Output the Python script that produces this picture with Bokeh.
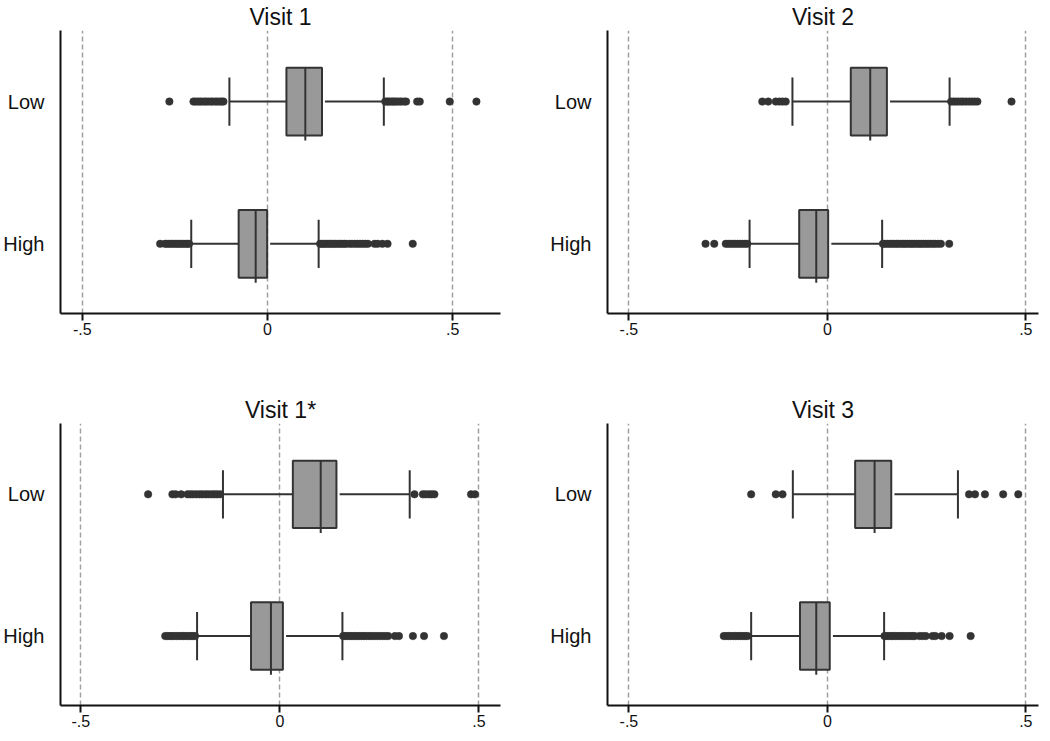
from bokeh.plotting import figure
from bokeh.layouts import row, column
from bokeh.models import Range1d, FixedTicker
from bokeh.embed import file_html
from bokeh.resources import INLINE

titles = ["Visit 1", "Visit 2", "Visit 1*", "Visit 3"]
groups = ["Low", "High"]          # Low drawn at y=1, High at y=0
group_y = [1, 0]

# box statistics per panel: [Low, High]
q1 = [[0.051, -0.078], [0.059, -0.071], [0.0325, -0.0725], [0.070, -0.069]]
med = [[0.102, -0.032], [0.108, -0.028], [0.1025, -0.0225], [0.119, -0.028]]
q3 = [[0.147, -0.001], [0.150, 0.002], [0.142, 0.0075], [0.161, 0.006]]
lo_whisk = [[-0.103, -0.206], [-0.088, -0.196], [-0.143, -0.208], [-0.087, -0.192]]
hi_whisk = [[0.314, 0.138], [0.308, 0.138], [0.326, 0.157], [0.329, 0.143]]

# outliers per panel: [Low, High]
outliers = [
    [
        [-0.265, -0.200, -0.195, -0.189, -0.183, -0.178, -0.171, -0.166, -0.160, -0.153,
         -0.148, -0.141, -0.136, -0.129, -0.124, -0.119,
         0.318, 0.323, 0.327, 0.332, 0.337, 0.341, 0.346, 0.351, 0.357, 0.362, 0.369,
         0.374, 0.404, 0.411, 0.492, 0.564],
        [-0.290, -0.277, -0.272, -0.266, -0.260, -0.255, -0.249, -0.244, -0.239, -0.233,
         -0.228, -0.222, -0.217, -0.212,
         0.142, 0.147, 0.152, 0.157, 0.163, 0.168, 0.173, 0.179, 0.184, 0.190, 0.196,
         0.201, 0.207, 0.212, 0.221, 0.228, 0.236, 0.243, 0.250, 0.257, 0.264, 0.271,
         0.289, 0.297, 0.310, 0.324, 0.392],
    ],
    [
        [-0.164, -0.149, -0.130, -0.121, -0.113, -0.105,
         0.312, 0.318, 0.324, 0.330, 0.337, 0.343, 0.350, 0.357, 0.364, 0.371, 0.378,
         0.464],
        [-0.307, -0.285, -0.256, -0.250, -0.244, -0.238, -0.232, -0.226, -0.220, -0.214,
         -0.208, -0.202,
         0.140, 0.145, 0.151, 0.157, 0.162, 0.168, 0.174, 0.179, 0.185, 0.191, 0.196,
         0.202, 0.208, 0.213, 0.219, 0.225, 0.231, 0.236, 0.242, 0.248, 0.254, 0.260,
         0.266, 0.272, 0.279, 0.286, 0.307],
    ],
    [
        [-0.331, -0.270, -0.262, -0.248, -0.232, -0.225, -0.218, -0.210, -0.202, -0.195,
         -0.187, -0.180, -0.172, -0.165, -0.158, -0.150,
         0.338, 0.359, 0.366, 0.374, 0.381, 0.388, 0.480, 0.490],
        [-0.288, -0.282, -0.276, -0.271, -0.265, -0.259, -0.253, -0.247, -0.242, -0.236,
         -0.230, -0.224, -0.219, -0.213,
         0.159, 0.164, 0.170, 0.176, 0.181, 0.187, 0.193, 0.199, 0.205, 0.211, 0.217,
         0.224, 0.230, 0.237, 0.244, 0.251, 0.258, 0.265, 0.272,
         0.289, 0.299, 0.334, 0.362, 0.412],
    ],
    [
        [-0.192, -0.130, -0.113,
         0.357, 0.372, 0.397, 0.443, 0.481],
        [-0.261, -0.255, -0.249, -0.243, -0.237, -0.231, -0.225, -0.219, -0.213, -0.207,
         -0.201,
         0.144, 0.149, 0.155, 0.161, 0.166, 0.172, 0.178, 0.184, 0.190, 0.196, 0.203,
         0.209, 0.215, 0.220, 0.232, 0.240, 0.248, 0.265, 0.272, 0.288, 0.308, 0.361],
    ],
]

x_ranges = [(-0.559, 0.629), (-0.554, 0.532), (-0.551, 0.554), (-0.554, 0.532)]
x_ticks = [-0.5, 0, 0.5]
x_tick_labels = {-0.5: "-.5", 0: "0", 0.5: ".5"}

FONT = "Liberation Sans"
BOX_FILL = "#999999"
DARK = "#333333"
LW = 2

# layout: (width, height, border_left, border_right, border_top, border_bottom)
sizes = [
    (522, 358, 58, 22, 28, 45),
    (520, 358, 85, 4, 28, 45),
    (522, 375, 58, 22, 65, 28),
    (520, 375, 85, 4, 65, 28),
]

BOX_H = 0.238
CAP_H = 0.17
MED_EXT = 0.035
GAP = 0.008


def make_panel(i):
    w, h, bl, br, bt, bb = sizes[i]
    p = figure(width=w, height=h, output_backend="svg", toolbar_location=None,
               x_range=Range1d(*x_ranges[i]), y_range=Range1d(-0.49, 1.5),
               min_border_left=bl, min_border_right=br, min_border_top=bt,
               min_border_bottom=bb)
    p.title.text = titles[i]
    p.title.align = "center"
    p.title.text_font = FONT
    p.title.text_font_size = "23px"
    p.title.text_font_style = "normal"
    p.title.text_color = "#111111"
    p.title.standoff = 2
    p.outline_line_color = None
    p.background_fill_color = "white"
    p.border_fill_color = "white"

    # axes
    p.xaxis.ticker = FixedTicker(ticks=x_ticks)
    p.xaxis.major_label_overrides = x_tick_labels
    p.xaxis.major_tick_out = 7
    p.xaxis.major_tick_in = 0
    p.xaxis.minor_tick_line_color = None
    p.xaxis.major_label_text_font = FONT
    p.xaxis.major_label_text_font_size = "16px"
    p.xaxis.major_label_text_color = "#111111"
    p.xaxis.axis_line_width = 2
    p.xaxis.major_tick_line_width = 2
    p.xaxis.axis_line_color = "#111111"
    p.xaxis.major_tick_line_color = "#111111"
    p.xaxis.major_label_standoff = 2

    p.yaxis.ticker = FixedTicker(ticks=group_y)
    p.yaxis.major_label_overrides = {gy: g for gy, g in zip(group_y, groups)}
    p.yaxis.major_tick_line_color = None
    p.yaxis.minor_tick_line_color = None
    p.yaxis.major_label_text_font = FONT
    p.yaxis.major_label_text_font_size = "20px"
    p.yaxis.major_label_text_color = "#111111"
    p.yaxis.major_label_standoff = 10
    p.yaxis.axis_line_width = 2
    p.yaxis.axis_line_color = "#111111"

    p.xgrid.grid_line_color = "#a0a0a0"
    p.xgrid.grid_line_dash = "5 3"
    p.xgrid.grid_line_width = 1.5
    p.ygrid.grid_line_color = None

    ys = group_y
    # whiskers
    p.segment(x0=lo_whisk[i], x1=q1[i], y0=ys, y1=ys, line_color=DARK, line_width=LW)
    p.segment(x0=[v + GAP for v in q3[i]], x1=hi_whisk[i], y0=ys, y1=ys,
              line_color=DARK, line_width=LW)
    # caps
    p.segment(x0=lo_whisk[i], x1=lo_whisk[i], y0=[y - CAP_H for y in ys],
              y1=[y + CAP_H for y in ys], line_color=DARK, line_width=LW)
    p.segment(x0=hi_whisk[i], x1=hi_whisk[i], y0=[y - CAP_H for y in ys],
              y1=[y + CAP_H for y in ys], line_color=DARK, line_width=LW)
    # boxes
    p.quad(left=q1[i], right=q3[i], bottom=[y - BOX_H for y in ys],
           top=[y + BOX_H for y in ys], fill_color=BOX_FILL, line_color=DARK,
           line_width=LW)
    # medians
    p.segment(x0=med[i], x1=med[i], y0=[y - BOX_H - MED_EXT for y in ys],
              y1=[y + BOX_H for y in ys], line_color=DARK, line_width=LW)
    # outliers
    for gy, pts in zip(ys, outliers[i]):
        p.scatter(x=pts, y=[gy] * len(pts), size=7.5, fill_color=DARK,
                  line_color=DARK, line_width=0.5)
    return p


panels = [make_panel(i) for i in range(4)]
layout = column(row(panels[0], panels[1]), row(panels[2], panels[3]))

open("out.html", "w").write(file_html(layout, INLINE))
